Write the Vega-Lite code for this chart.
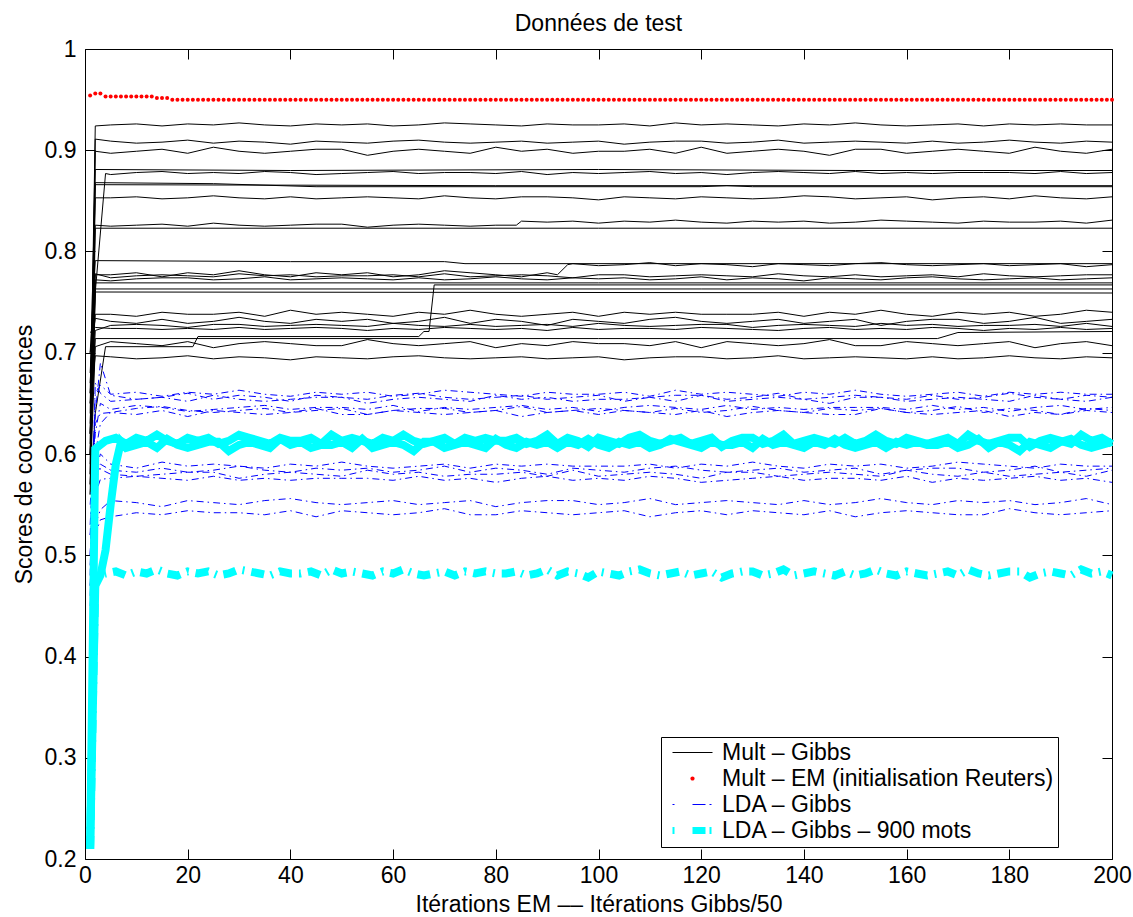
{
"$schema":"https://vega.github.io/schema/vega-lite/v6.json",
"width":1027,"height":810,
"autosize":{"type":"none"},
"padding":{"left":85,"top":49,"right":21,"bottom":58},
"title":{"text":"Données de test","font":"Liberation Sans","fontSize":23,"fontWeight":"normal","color":"#000000","offset":2,"anchor":"middle"},
"config":{"view":{"stroke":"#000000","strokeWidth":1},
"axis":{"grid":false,"domain":false,"tickColor":"#000000","tickSize":-10,"tickWidth":1,"labelFont":"Liberation Sans","labelFontSize":23,"labelColor":"#000000","titleFont":"Liberation Sans","titleFontSize":23,"titleFontWeight":"normal","titleColor":"#000000","labelFlush":false,"labelOverlap":false,"labelBound":false}},
"datasets":{
"mg":[
{"s":1,"x":1,"y":0.62},{"s":1,"x":2,"y":0.924},{"s":1,"x":5,"y":0.925},{"s":1,"x":10,"y":0.926},{"s":1,"x":15,"y":0.924},{"s":1,"x":20,"y":0.926},{"s":1,"x":25,"y":0.925},{"s":1,"x":30,"y":0.927},{"s":1,"x":35,"y":0.925},{"s":1,"x":40,"y":0.924},{"s":1,"x":45,"y":0.926},{"s":1,"x":50,"y":0.925},{"s":1,"x":55,"y":0.926},{"s":1,"x":60,"y":0.924},{"s":1,"x":65,"y":0.925},{"s":1,"x":70,"y":0.927},{"s":1,"x":75,"y":0.926},{"s":1,"x":80,"y":0.925},{"s":1,"x":85,"y":0.924},{"s":1,"x":90,"y":0.926},{"s":1,"x":95,"y":0.925},{"s":1,"x":100,"y":0.925},{"s":1,"x":105,"y":0.926},{"s":1,"x":110,"y":0.924},{"s":1,"x":115,"y":0.927},{"s":1,"x":120,"y":0.925},{"s":1,"x":125,"y":0.926},{"s":1,"x":130,"y":0.925},{"s":1,"x":135,"y":0.924},{"s":1,"x":140,"y":0.926},{"s":1,"x":145,"y":0.925},{"s":1,"x":150,"y":0.927},{"s":1,"x":155,"y":0.925},{"s":1,"x":160,"y":0.924},{"s":1,"x":165,"y":0.925},{"s":1,"x":170,"y":0.926},{"s":1,"x":175,"y":0.924},{"s":1,"x":180,"y":0.926},{"s":1,"x":185,"y":0.925},{"s":1,"x":190,"y":0.926},{"s":1,"x":195,"y":0.925},{"s":1,"x":200,"y":0.925},
{"s":2,"x":1,"y":0.60},{"s":2,"x":2,"y":0.911},{"s":2,"x":5,"y":0.909},{"s":2,"x":10,"y":0.907},{"s":2,"x":15,"y":0.908},{"s":2,"x":20,"y":0.910},{"s":2,"x":25,"y":0.907},{"s":2,"x":30,"y":0.909},{"s":2,"x":35,"y":0.908},{"s":2,"x":40,"y":0.906},{"s":2,"x":45,"y":0.909},{"s":2,"x":50,"y":0.908},{"s":2,"x":55,"y":0.907},{"s":2,"x":60,"y":0.909},{"s":2,"x":65,"y":0.910},{"s":2,"x":70,"y":0.908},{"s":2,"x":75,"y":0.907},{"s":2,"x":80,"y":0.908},{"s":2,"x":85,"y":0.909},{"s":2,"x":90,"y":0.907},{"s":2,"x":95,"y":0.908},{"s":2,"x":100,"y":0.909},{"s":2,"x":105,"y":0.906},{"s":2,"x":110,"y":0.908},{"s":2,"x":115,"y":0.909},{"s":2,"x":120,"y":0.909},{"s":2,"x":125,"y":0.907},{"s":2,"x":130,"y":0.908},{"s":2,"x":135,"y":0.910},{"s":2,"x":140,"y":0.907},{"s":2,"x":145,"y":0.908},{"s":2,"x":150,"y":0.909},{"s":2,"x":155,"y":0.908},{"s":2,"x":160,"y":0.907},{"s":2,"x":165,"y":0.909},{"s":2,"x":170,"y":0.907},{"s":2,"x":175,"y":0.908},{"s":2,"x":180,"y":0.910},{"s":2,"x":185,"y":0.908},{"s":2,"x":190,"y":0.907},{"s":2,"x":195,"y":0.909},{"s":2,"x":200,"y":0.908},
{"s":3,"x":1,"y":0.58},{"s":3,"x":2,"y":0.899},{"s":3,"x":5,"y":0.897},{"s":3,"x":10,"y":0.899},{"s":3,"x":15,"y":0.901},{"s":3,"x":20,"y":0.897},{"s":3,"x":25,"y":0.903},{"s":3,"x":30,"y":0.899},{"s":3,"x":35,"y":0.897},{"s":3,"x":40,"y":0.899},{"s":3,"x":45,"y":0.901},{"s":3,"x":50,"y":0.901},{"s":3,"x":55,"y":0.895},{"s":3,"x":60,"y":0.899},{"s":3,"x":65,"y":0.901},{"s":3,"x":70,"y":0.899},{"s":3,"x":75,"y":0.897},{"s":3,"x":80,"y":0.903},{"s":3,"x":85,"y":0.899},{"s":3,"x":90,"y":0.901},{"s":3,"x":95,"y":0.897},{"s":3,"x":100,"y":0.899},{"s":3,"x":105,"y":0.899},{"s":3,"x":110,"y":0.901},{"s":3,"x":115,"y":0.897},{"s":3,"x":120,"y":0.903},{"s":3,"x":125,"y":0.897},{"s":3,"x":130,"y":0.899},{"s":3,"x":135,"y":0.901},{"s":3,"x":140,"y":0.899},{"s":3,"x":145,"y":0.895},{"s":3,"x":150,"y":0.901},{"s":3,"x":155,"y":0.901},{"s":3,"x":160,"y":0.897},{"s":3,"x":165,"y":0.899},{"s":3,"x":170,"y":0.901},{"s":3,"x":175,"y":0.899},{"s":3,"x":180,"y":0.897},{"s":3,"x":185,"y":0.903},{"s":3,"x":190,"y":0.899},{"s":3,"x":195,"y":0.897},{"s":3,"x":200,"y":0.901},
{"s":4,"x":1,"y":0.66},{"s":4,"x":2,"y":0.881},{"s":4,"x":40,"y":0.880},{"s":4,"x":100,"y":0.881},{"s":4,"x":150,"y":0.880},{"s":4,"x":200,"y":0.880},
{"s":5,"x":1,"y":0.57},{"s":5,"x":2,"y":0.76},{"s":5,"x":4,"y":0.877},{"s":5,"x":5,"y":0.876},{"s":5,"x":10,"y":0.878},{"s":5,"x":15,"y":0.879},{"s":5,"x":20,"y":0.877},{"s":5,"x":25,"y":0.878},{"s":5,"x":30,"y":0.877},{"s":5,"x":35,"y":0.879},{"s":5,"x":40,"y":0.878},{"s":5,"x":45,"y":0.876},{"s":5,"x":50,"y":0.877},{"s":5,"x":55,"y":0.878},{"s":5,"x":60,"y":0.879},{"s":5,"x":65,"y":0.877},{"s":5,"x":70,"y":0.878},{"s":5,"x":75,"y":0.878},{"s":5,"x":80,"y":0.877},{"s":5,"x":85,"y":0.879},{"s":5,"x":90,"y":0.876},{"s":5,"x":95,"y":0.878},{"s":5,"x":100,"y":0.877},{"s":5,"x":105,"y":0.878},{"s":5,"x":110,"y":0.879},{"s":5,"x":115,"y":0.877},{"s":5,"x":120,"y":0.878},{"s":5,"x":125,"y":0.876},{"s":5,"x":130,"y":0.878},{"s":5,"x":135,"y":0.879},{"s":5,"x":140,"y":0.878},{"s":5,"x":145,"y":0.877},{"s":5,"x":150,"y":0.879},{"s":5,"x":155,"y":0.877},{"s":5,"x":160,"y":0.878},{"s":5,"x":165,"y":0.877},{"s":5,"x":170,"y":0.878},{"s":5,"x":175,"y":0.878},{"s":5,"x":180,"y":0.878},{"s":5,"x":185,"y":0.877},{"s":5,"x":190,"y":0.879},{"s":5,"x":195,"y":0.877},{"s":5,"x":200,"y":0.878},
{"s":6,"x":1,"y":0.64},{"s":6,"x":2,"y":0.866},{"s":6,"x":80,"y":0.865},{"s":6,"x":200,"y":0.865},
{"s":7,"x":1,"y":0.61},{"s":7,"x":2,"y":0.868},{"s":7,"x":25,"y":0.867},{"s":7,"x":45,"y":0.864},{"s":7,"x":120,"y":0.864},{"s":7,"x":125,"y":0.865},{"s":7,"x":130,"y":0.864},{"s":7,"x":200,"y":0.864},
{"s":8,"x":1,"y":0.59},{"s":8,"x":2,"y":0.853},{"s":8,"x":5,"y":0.853},{"s":8,"x":10,"y":0.854},{"s":8,"x":15,"y":0.852},{"s":8,"x":20,"y":0.853},{"s":8,"x":25,"y":0.855},{"s":8,"x":30,"y":0.853},{"s":8,"x":35,"y":0.852},{"s":8,"x":40,"y":0.854},{"s":8,"x":45,"y":0.852},{"s":8,"x":50,"y":0.853},{"s":8,"x":55,"y":0.854},{"s":8,"x":60,"y":0.853},{"s":8,"x":65,"y":0.852},{"s":8,"x":70,"y":0.855},{"s":8,"x":75,"y":0.853},{"s":8,"x":80,"y":0.852},{"s":8,"x":85,"y":0.854},{"s":8,"x":90,"y":0.854},{"s":8,"x":95,"y":0.853},{"s":8,"x":100,"y":0.851},{"s":8,"x":105,"y":0.854},{"s":8,"x":110,"y":0.853},{"s":8,"x":115,"y":0.852},{"s":8,"x":120,"y":0.854},{"s":8,"x":125,"y":0.853},{"s":8,"x":130,"y":0.852},{"s":8,"x":135,"y":0.853},{"s":8,"x":140,"y":0.855},{"s":8,"x":145,"y":0.854},{"s":8,"x":150,"y":0.852},{"s":8,"x":155,"y":0.853},{"s":8,"x":160,"y":0.854},{"s":8,"x":165,"y":0.851},{"s":8,"x":170,"y":0.853},{"s":8,"x":175,"y":0.854},{"s":8,"x":180,"y":0.852},{"s":8,"x":185,"y":0.855},{"s":8,"x":190,"y":0.853},{"s":8,"x":195,"y":0.852},{"s":8,"x":200,"y":0.854},
{"s":9,"x":1,"y":0.65},{"s":9,"x":2,"y":0.826},{"s":9,"x":5,"y":0.825},{"s":9,"x":10,"y":0.826},{"s":9,"x":15,"y":0.827},{"s":9,"x":20,"y":0.825},{"s":9,"x":25,"y":0.828},{"s":9,"x":30,"y":0.826},{"s":9,"x":35,"y":0.825},{"s":9,"x":40,"y":0.826},{"s":9,"x":45,"y":0.827},{"s":9,"x":50,"y":0.827},{"s":9,"x":55,"y":0.824},{"s":9,"x":60,"y":0.826},{"s":9,"x":65,"y":0.827},{"s":9,"x":70,"y":0.826},{"s":9,"x":75,"y":0.825},{"s":9,"x":80,"y":0.826},{"s":9,"x":84,"y":0.826},{"s":9,"x":85,"y":0.830},{"s":9,"x":90,"y":0.829},{"s":9,"x":95,"y":0.830},{"s":9,"x":100,"y":0.828},{"s":9,"x":105,"y":0.830},{"s":9,"x":110,"y":0.829},{"s":9,"x":115,"y":0.831},{"s":9,"x":120,"y":0.829},{"s":9,"x":125,"y":0.828},{"s":9,"x":130,"y":0.830},{"s":9,"x":135,"y":0.829},{"s":9,"x":140,"y":0.830},{"s":9,"x":145,"y":0.828},{"s":9,"x":150,"y":0.829},{"s":9,"x":155,"y":0.831},{"s":9,"x":160,"y":0.830},{"s":9,"x":165,"y":0.829},{"s":9,"x":170,"y":0.828},{"s":9,"x":175,"y":0.830},{"s":9,"x":180,"y":0.829},{"s":9,"x":185,"y":0.829},{"s":9,"x":190,"y":0.830},{"s":9,"x":195,"y":0.828},{"s":9,"x":200,"y":0.831},
{"s":10,"x":1,"y":0.56},{"s":10,"x":2,"y":0.823},{"s":10,"x":100,"y":0.823},{"s":10,"x":200,"y":0.823},
{"s":11,"x":1,"y":0.70},{"s":11,"x":2,"y":0.791},{"s":11,"x":40,"y":0.790},{"s":11,"x":70,"y":0.790},{"s":11,"x":74,"y":0.788},{"s":11,"x":200,"y":0.788},
{"s":12,"x":1,"y":0.62},{"s":12,"x":2,"y":0.777},{"s":12,"x":5,"y":0.777},{"s":12,"x":10,"y":0.779},{"s":12,"x":15,"y":0.775},{"s":12,"x":20,"y":0.779},{"s":12,"x":25,"y":0.777},{"s":12,"x":30,"y":0.781},{"s":12,"x":35,"y":0.777},{"s":12,"x":40,"y":0.775},{"s":12,"x":45,"y":0.779},{"s":12,"x":50,"y":0.777},{"s":12,"x":55,"y":0.779},{"s":12,"x":60,"y":0.775},{"s":12,"x":65,"y":0.777},{"s":12,"x":70,"y":0.781},{"s":12,"x":75,"y":0.779},{"s":12,"x":80,"y":0.777},{"s":12,"x":85,"y":0.775},{"s":12,"x":90,"y":0.779},{"s":12,"x":92,"y":0.777},{"s":12,"x":94,"y":0.787},{"s":12,"x":95,"y":0.788},{"s":12,"x":100,"y":0.786},{"s":12,"x":105,"y":0.787},{"s":12,"x":110,"y":0.789},{"s":12,"x":115,"y":0.786},{"s":12,"x":120,"y":0.788},{"s":12,"x":125,"y":0.787},{"s":12,"x":130,"y":0.785},{"s":12,"x":135,"y":0.788},{"s":12,"x":140,"y":0.787},{"s":12,"x":145,"y":0.786},{"s":12,"x":150,"y":0.788},{"s":12,"x":155,"y":0.789},{"s":12,"x":160,"y":0.787},{"s":12,"x":165,"y":0.786},{"s":12,"x":170,"y":0.787},{"s":12,"x":175,"y":0.788},{"s":12,"x":180,"y":0.786},{"s":12,"x":185,"y":0.787},{"s":12,"x":190,"y":0.788},{"s":12,"x":195,"y":0.785},{"s":12,"x":200,"y":0.787},
{"s":13,"x":1,"y":0.68},{"s":13,"x":2,"y":0.778},{"s":13,"x":5,"y":0.774},{"s":13,"x":10,"y":0.776},{"s":13,"x":15,"y":0.777},{"s":13,"x":20,"y":0.776},{"s":13,"x":25,"y":0.775},{"s":13,"x":30,"y":0.778},{"s":13,"x":35,"y":0.776},{"s":13,"x":40,"y":0.777},{"s":13,"x":45,"y":0.775},{"s":13,"x":50,"y":0.776},{"s":13,"x":55,"y":0.776},{"s":13,"x":60,"y":0.777},{"s":13,"x":65,"y":0.775},{"s":13,"x":70,"y":0.778},{"s":13,"x":75,"y":0.775},{"s":13,"x":80,"y":0.776},{"s":13,"x":85,"y":0.777},{"s":13,"x":90,"y":0.776},{"s":13,"x":95,"y":0.774},{"s":13,"x":100,"y":0.777},{"s":13,"x":105,"y":0.777},{"s":13,"x":110,"y":0.775},{"s":13,"x":115,"y":0.776},{"s":13,"x":120,"y":0.777},{"s":13,"x":125,"y":0.776},{"s":13,"x":130,"y":0.775},{"s":13,"x":135,"y":0.778},{"s":13,"x":140,"y":0.776},{"s":13,"x":145,"y":0.775},{"s":13,"x":150,"y":0.777},{"s":13,"x":155,"y":0.775},{"s":13,"x":160,"y":0.776},{"s":13,"x":165,"y":0.777},{"s":13,"x":170,"y":0.775},{"s":13,"x":175,"y":0.778},{"s":13,"x":180,"y":0.776},{"s":13,"x":185,"y":0.775},{"s":13,"x":190,"y":0.776},{"s":13,"x":195,"y":0.777},{"s":13,"x":200,"y":0.777},
{"s":14,"x":1,"y":0.60},{"s":14,"x":2,"y":0.772},{"s":14,"x":5,"y":0.771},{"s":14,"x":10,"y":0.773},{"s":14,"x":15,"y":0.774},{"s":14,"x":20,"y":0.774},{"s":14,"x":25,"y":0.772},{"s":14,"x":30,"y":0.773},{"s":14,"x":35,"y":0.775},{"s":14,"x":40,"y":0.772},{"s":14,"x":45,"y":0.773},{"s":14,"x":50,"y":0.774},{"s":14,"x":55,"y":0.773},{"s":14,"x":60,"y":0.772},{"s":14,"x":65,"y":0.774},{"s":14,"x":70,"y":0.772},{"s":14,"x":75,"y":0.773},{"s":14,"x":80,"y":0.775},{"s":14,"x":85,"y":0.773},{"s":14,"x":90,"y":0.772},{"s":14,"x":95,"y":0.774},{"s":14,"x":100,"y":0.773},{"s":14,"x":105,"y":0.774},{"s":14,"x":110,"y":0.772},{"s":14,"x":115,"y":0.773},{"s":14,"x":120,"y":0.775},{"s":14,"x":125,"y":0.772},{"s":14,"x":130,"y":0.774},{"s":14,"x":135,"y":0.773},{"s":14,"x":140,"y":0.771},{"s":14,"x":145,"y":0.774},{"s":14,"x":150,"y":0.773},{"s":14,"x":155,"y":0.772},{"s":14,"x":160,"y":0.774},{"s":14,"x":165,"y":0.775},{"s":14,"x":170,"y":0.773},{"s":14,"x":175,"y":0.772},{"s":14,"x":180,"y":0.773},{"s":14,"x":185,"y":0.774},{"s":14,"x":190,"y":0.772},{"s":14,"x":195,"y":0.773},{"s":14,"x":200,"y":0.774},
{"s":15,"x":1,"y":0.67},{"s":15,"x":2,"y":0.769},{"s":15,"x":100,"y":0.769},{"s":15,"x":200,"y":0.769},
{"s":16,"x":1,"y":0.63},{"s":16,"x":2,"y":0.763},{"s":16,"x":120,"y":0.763},{"s":16,"x":200,"y":0.763},
{"s":17,"x":1,"y":0.56},{"s":17,"x":2,"y":0.64},{"s":17,"x":4,"y":0.706},{"s":17,"x":21,"y":0.706},{"s":17,"x":22,"y":0.716},{"s":17,"x":65,"y":0.716},{"s":17,"x":66,"y":0.721},{"s":17,"x":67,"y":0.721},{"s":17,"x":68,"y":0.767},{"s":17,"x":200,"y":0.767},
{"s":18,"x":1,"y":0.58},{"s":18,"x":2,"y":0.760},{"s":18,"x":200,"y":0.759},
{"s":19,"x":1,"y":0.66},{"s":19,"x":2,"y":0.738},{"s":19,"x":5,"y":0.738},{"s":19,"x":10,"y":0.736},{"s":19,"x":15,"y":0.740},{"s":19,"x":20,"y":0.738},{"s":19,"x":25,"y":0.738},{"s":19,"x":30,"y":0.740},{"s":19,"x":35,"y":0.736},{"s":19,"x":40,"y":0.742},{"s":19,"x":45,"y":0.738},{"s":19,"x":50,"y":0.740},{"s":19,"x":55,"y":0.738},{"s":19,"x":60,"y":0.736},{"s":19,"x":65,"y":0.740},{"s":19,"x":70,"y":0.738},{"s":19,"x":75,"y":0.742},{"s":19,"x":80,"y":0.738},{"s":19,"x":85,"y":0.736},{"s":19,"x":90,"y":0.738},{"s":19,"x":95,"y":0.740},{"s":19,"x":100,"y":0.736},{"s":19,"x":105,"y":0.740},{"s":19,"x":110,"y":0.738},{"s":19,"x":115,"y":0.740},{"s":19,"x":120,"y":0.738},{"s":19,"x":125,"y":0.738},{"s":19,"x":130,"y":0.738},{"s":19,"x":135,"y":0.740},{"s":19,"x":140,"y":0.736},{"s":19,"x":145,"y":0.740},{"s":19,"x":150,"y":0.738},{"s":19,"x":155,"y":0.742},{"s":19,"x":160,"y":0.738},{"s":19,"x":165,"y":0.736},{"s":19,"x":170,"y":0.740},{"s":19,"x":175,"y":0.738},{"s":19,"x":180,"y":0.740},{"s":19,"x":185,"y":0.736},{"s":19,"x":190,"y":0.738},{"s":19,"x":195,"y":0.742},{"s":19,"x":200,"y":0.740},
{"s":20,"x":1,"y":0.70},{"s":20,"x":2,"y":0.734},{"s":20,"x":5,"y":0.731},{"s":20,"x":10,"y":0.729},{"s":20,"x":15,"y":0.733},{"s":20,"x":20,"y":0.729},{"s":20,"x":25,"y":0.731},{"s":20,"x":30,"y":0.735},{"s":20,"x":35,"y":0.731},{"s":20,"x":40,"y":0.729},{"s":20,"x":45,"y":0.733},{"s":20,"x":50,"y":0.731},{"s":20,"x":55,"y":0.733},{"s":20,"x":60,"y":0.729},{"s":20,"x":65,"y":0.731},{"s":20,"x":70,"y":0.735},{"s":20,"x":75,"y":0.729},{"s":20,"x":80,"y":0.733},{"s":20,"x":85,"y":0.731},{"s":20,"x":90,"y":0.727},{"s":20,"x":95,"y":0.733},{"s":20,"x":100,"y":0.731},{"s":20,"x":105,"y":0.729},{"s":20,"x":110,"y":0.733},{"s":20,"x":115,"y":0.735},{"s":20,"x":120,"y":0.731},{"s":20,"x":125,"y":0.729},{"s":20,"x":130,"y":0.731},{"s":20,"x":135,"y":0.733},{"s":20,"x":140,"y":0.729},{"s":20,"x":145,"y":0.731},{"s":20,"x":150,"y":0.733},{"s":20,"x":155,"y":0.727},{"s":20,"x":160,"y":0.731},{"s":20,"x":165,"y":0.733},{"s":20,"x":170,"y":0.733},{"s":20,"x":175,"y":0.729},{"s":20,"x":180,"y":0.731},{"s":20,"x":185,"y":0.735},{"s":20,"x":190,"y":0.729},{"s":20,"x":195,"y":0.731},{"s":20,"x":200,"y":0.733},
{"s":21,"x":1,"y":0.62},{"s":21,"x":2,"y":0.722},{"s":21,"x":5,"y":0.727},{"s":21,"x":10,"y":0.728},{"s":21,"x":15,"y":0.727},{"s":21,"x":20,"y":0.725},{"s":21,"x":25,"y":0.728},{"s":21,"x":30,"y":0.728},{"s":21,"x":35,"y":0.726},{"s":21,"x":40,"y":0.727},{"s":21,"x":45,"y":0.728},{"s":21,"x":50,"y":0.727},{"s":21,"x":55,"y":0.726},{"s":21,"x":60,"y":0.729},{"s":21,"x":65,"y":0.727},{"s":21,"x":70,"y":0.726},{"s":21,"x":75,"y":0.728},{"s":21,"x":80,"y":0.726},{"s":21,"x":85,"y":0.727},{"s":21,"x":90,"y":0.728},{"s":21,"x":95,"y":0.726},{"s":21,"x":100,"y":0.729},{"s":21,"x":105,"y":0.727},{"s":21,"x":110,"y":0.726},{"s":21,"x":115,"y":0.727},{"s":21,"x":120,"y":0.728},{"s":21,"x":125,"y":0.728},{"s":21,"x":130,"y":0.725},{"s":21,"x":135,"y":0.727},{"s":21,"x":140,"y":0.728},{"s":21,"x":145,"y":0.727},{"s":21,"x":150,"y":0.726},{"s":21,"x":155,"y":0.729},{"s":21,"x":160,"y":0.727},{"s":21,"x":165,"y":0.728},{"s":21,"x":170,"y":0.726},{"s":21,"x":175,"y":0.727},{"s":21,"x":180,"y":0.727},{"s":21,"x":185,"y":0.728},{"s":21,"x":190,"y":0.726},{"s":21,"x":195,"y":0.729},{"s":21,"x":200,"y":0.726},
{"s":22,"x":1,"y":0.72},{"s":22,"x":2,"y":0.725},{"s":22,"x":5,"y":0.724},{"s":22,"x":10,"y":0.724},{"s":22,"x":15,"y":0.723},{"s":22,"x":20,"y":0.724},{"s":22,"x":25,"y":0.723},{"s":22,"x":30,"y":0.725},{"s":22,"x":35,"y":0.723},{"s":22,"x":40,"y":0.724},{"s":22,"x":45,"y":0.725},{"s":22,"x":50,"y":0.724},{"s":22,"x":55,"y":0.722},{"s":22,"x":60,"y":0.724},{"s":22,"x":65,"y":0.723},{"s":22,"x":70,"y":0.725},{"s":22,"x":75,"y":0.724},{"s":22,"x":80,"y":0.723},{"s":22,"x":85,"y":0.724},{"s":22,"x":90,"y":0.722},{"s":22,"x":95,"y":0.725},{"s":22,"x":100,"y":0.723},{"s":22,"x":105,"y":0.724},{"s":22,"x":110,"y":0.724},{"s":22,"x":115,"y":0.723},{"s":22,"x":120,"y":0.725},{"s":22,"x":125,"y":0.724},{"s":22,"x":130,"y":0.723},{"s":22,"x":135,"y":0.722},{"s":22,"x":140,"y":0.724},{"s":22,"x":145,"y":0.725},{"s":22,"x":150,"y":0.723},{"s":22,"x":155,"y":0.724},{"s":22,"x":160,"y":0.723},{"s":22,"x":165,"y":0.725},{"s":22,"x":170,"y":0.724},{"s":22,"x":175,"y":0.722},{"s":22,"x":180,"y":0.724},{"s":22,"x":185,"y":0.723},{"s":22,"x":190,"y":0.725},{"s":22,"x":195,"y":0.723},{"s":22,"x":200,"y":0.724},
{"s":23,"x":1,"y":0.60},{"s":23,"x":2,"y":0.714},{"s":23,"x":100,"y":0.714},{"s":23,"x":166,"y":0.714},{"s":23,"x":170,"y":0.720},{"s":23,"x":200,"y":0.721},
{"s":24,"x":1,"y":0.57},{"s":24,"x":2,"y":0.706},{"s":24,"x":5,"y":0.711},{"s":24,"x":10,"y":0.709},{"s":24,"x":15,"y":0.707},{"s":24,"x":20,"y":0.711},{"s":24,"x":25,"y":0.705},{"s":24,"x":30,"y":0.709},{"s":24,"x":35,"y":0.711},{"s":24,"x":40,"y":0.709},{"s":24,"x":45,"y":0.707},{"s":24,"x":50,"y":0.707},{"s":24,"x":55,"y":0.713},{"s":24,"x":60,"y":0.709},{"s":24,"x":65,"y":0.707},{"s":24,"x":70,"y":0.709},{"s":24,"x":75,"y":0.711},{"s":24,"x":80,"y":0.705},{"s":24,"x":85,"y":0.709},{"s":24,"x":90,"y":0.707},{"s":24,"x":95,"y":0.711},{"s":24,"x":100,"y":0.709},{"s":24,"x":105,"y":0.709},{"s":24,"x":110,"y":0.707},{"s":24,"x":115,"y":0.711},{"s":24,"x":120,"y":0.705},{"s":24,"x":125,"y":0.711},{"s":24,"x":130,"y":0.709},{"s":24,"x":135,"y":0.707},{"s":24,"x":140,"y":0.709},{"s":24,"x":145,"y":0.713},{"s":24,"x":150,"y":0.707},{"s":24,"x":155,"y":0.707},{"s":24,"x":160,"y":0.711},{"s":24,"x":165,"y":0.709},{"s":24,"x":170,"y":0.707},{"s":24,"x":175,"y":0.709},{"s":24,"x":180,"y":0.711},{"s":24,"x":185,"y":0.705},{"s":24,"x":190,"y":0.709},{"s":24,"x":195,"y":0.711},{"s":24,"x":200,"y":0.707},
{"s":25,"x":1,"y":0.65},{"s":25,"x":2,"y":0.697},{"s":25,"x":5,"y":0.696},{"s":25,"x":10,"y":0.694},{"s":25,"x":15,"y":0.695},{"s":25,"x":20,"y":0.697},{"s":25,"x":25,"y":0.694},{"s":25,"x":30,"y":0.696},{"s":25,"x":35,"y":0.695},{"s":25,"x":40,"y":0.693},{"s":25,"x":45,"y":0.696},{"s":25,"x":50,"y":0.695},{"s":25,"x":55,"y":0.694},{"s":25,"x":60,"y":0.696},{"s":25,"x":65,"y":0.697},{"s":25,"x":70,"y":0.695},{"s":25,"x":75,"y":0.694},{"s":25,"x":80,"y":0.695},{"s":25,"x":85,"y":0.696},{"s":25,"x":90,"y":0.694},{"s":25,"x":95,"y":0.695},{"s":25,"x":100,"y":0.696},{"s":25,"x":105,"y":0.693},{"s":25,"x":110,"y":0.695},{"s":25,"x":115,"y":0.696},{"s":25,"x":120,"y":0.696},{"s":25,"x":125,"y":0.694},{"s":25,"x":130,"y":0.695},{"s":25,"x":135,"y":0.697},{"s":25,"x":140,"y":0.694},{"s":25,"x":145,"y":0.695},{"s":25,"x":150,"y":0.696},{"s":25,"x":155,"y":0.695},{"s":25,"x":160,"y":0.694},{"s":25,"x":165,"y":0.696},{"s":25,"x":170,"y":0.694},{"s":25,"x":175,"y":0.695},{"s":25,"x":180,"y":0.697},{"s":25,"x":185,"y":0.695},{"s":25,"x":190,"y":0.694},{"s":25,"x":195,"y":0.696},{"s":25,"x":200,"y":0.695}
],
"lg":[
{"s":1,"x":1,"y":0.50},{"s":1,"x":2,"y":0.66},{"s":1,"x":3,"y":0.668},{"s":1,"x":5,"y":0.659},{"s":1,"x":10,"y":0.661},{"s":1,"x":15,"y":0.657},{"s":1,"x":20,"y":0.661},{"s":1,"x":25,"y":0.659},{"s":1,"x":30,"y":0.663},{"s":1,"x":35,"y":0.659},{"s":1,"x":40,"y":0.657},{"s":1,"x":45,"y":0.661},{"s":1,"x":50,"y":0.659},{"s":1,"x":55,"y":0.661},{"s":1,"x":60,"y":0.657},{"s":1,"x":65,"y":0.659},{"s":1,"x":70,"y":0.663},{"s":1,"x":75,"y":0.661},{"s":1,"x":80,"y":0.659},{"s":1,"x":85,"y":0.657},{"s":1,"x":90,"y":0.661},{"s":1,"x":95,"y":0.659},{"s":1,"x":100,"y":0.659},{"s":1,"x":105,"y":0.661},{"s":1,"x":110,"y":0.657},{"s":1,"x":115,"y":0.663},{"s":1,"x":120,"y":0.659},{"s":1,"x":125,"y":0.661},{"s":1,"x":130,"y":0.659},{"s":1,"x":135,"y":0.657},{"s":1,"x":140,"y":0.661},{"s":1,"x":145,"y":0.659},{"s":1,"x":150,"y":0.663},{"s":1,"x":155,"y":0.659},{"s":1,"x":160,"y":0.657},{"s":1,"x":165,"y":0.659},{"s":1,"x":170,"y":0.661},{"s":1,"x":175,"y":0.657},{"s":1,"x":180,"y":0.661},{"s":1,"x":185,"y":0.659},{"s":1,"x":190,"y":0.661},{"s":1,"x":195,"y":0.659},{"s":1,"x":200,"y":0.659},
{"s":2,"x":1,"y":0.52},{"s":2,"x":2,"y":0.64},{"s":2,"x":3,"y":0.69},{"s":2,"x":5,"y":0.658},{"s":2,"x":10,"y":0.654},{"s":2,"x":15,"y":0.656},{"s":2,"x":20,"y":0.660},{"s":2,"x":25,"y":0.654},{"s":2,"x":30,"y":0.658},{"s":2,"x":35,"y":0.656},{"s":2,"x":40,"y":0.652},{"s":2,"x":45,"y":0.658},{"s":2,"x":50,"y":0.656},{"s":2,"x":55,"y":0.654},{"s":2,"x":60,"y":0.658},{"s":2,"x":65,"y":0.660},{"s":2,"x":70,"y":0.656},{"s":2,"x":75,"y":0.654},{"s":2,"x":80,"y":0.656},{"s":2,"x":85,"y":0.658},{"s":2,"x":90,"y":0.654},{"s":2,"x":95,"y":0.656},{"s":2,"x":100,"y":0.658},{"s":2,"x":105,"y":0.652},{"s":2,"x":110,"y":0.656},{"s":2,"x":115,"y":0.658},{"s":2,"x":120,"y":0.658},{"s":2,"x":125,"y":0.654},{"s":2,"x":130,"y":0.656},{"s":2,"x":135,"y":0.660},{"s":2,"x":140,"y":0.654},{"s":2,"x":145,"y":0.656},{"s":2,"x":150,"y":0.658},{"s":2,"x":155,"y":0.656},{"s":2,"x":160,"y":0.654},{"s":2,"x":165,"y":0.658},{"s":2,"x":170,"y":0.654},{"s":2,"x":175,"y":0.656},{"s":2,"x":180,"y":0.660},{"s":2,"x":185,"y":0.656},{"s":2,"x":190,"y":0.654},{"s":2,"x":195,"y":0.658},{"s":2,"x":200,"y":0.656},
{"s":3,"x":1,"y":0.48},{"s":3,"x":2,"y":0.67},{"s":3,"x":3,"y":0.66},{"s":3,"x":5,"y":0.652},{"s":3,"x":10,"y":0.654},{"s":3,"x":15,"y":0.656},{"s":3,"x":20,"y":0.652},{"s":3,"x":25,"y":0.658},{"s":3,"x":30,"y":0.654},{"s":3,"x":35,"y":0.652},{"s":3,"x":40,"y":0.654},{"s":3,"x":45,"y":0.656},{"s":3,"x":50,"y":0.656},{"s":3,"x":55,"y":0.650},{"s":3,"x":60,"y":0.654},{"s":3,"x":65,"y":0.656},{"s":3,"x":70,"y":0.654},{"s":3,"x":75,"y":0.652},{"s":3,"x":80,"y":0.658},{"s":3,"x":85,"y":0.654},{"s":3,"x":90,"y":0.656},{"s":3,"x":95,"y":0.652},{"s":3,"x":100,"y":0.654},{"s":3,"x":105,"y":0.654},{"s":3,"x":110,"y":0.656},{"s":3,"x":115,"y":0.652},{"s":3,"x":120,"y":0.658},{"s":3,"x":125,"y":0.652},{"s":3,"x":130,"y":0.654},{"s":3,"x":135,"y":0.656},{"s":3,"x":140,"y":0.654},{"s":3,"x":145,"y":0.650},{"s":3,"x":150,"y":0.656},{"s":3,"x":155,"y":0.656},{"s":3,"x":160,"y":0.652},{"s":3,"x":165,"y":0.654},{"s":3,"x":170,"y":0.656},{"s":3,"x":175,"y":0.654},{"s":3,"x":180,"y":0.652},{"s":3,"x":185,"y":0.658},{"s":3,"x":190,"y":0.654},{"s":3,"x":195,"y":0.652},{"s":3,"x":200,"y":0.656},
{"s":4,"x":1,"y":0.55},{"s":4,"x":2,"y":0.62},{"s":4,"x":3,"y":0.65},{"s":4,"x":5,"y":0.644},{"s":4,"x":10,"y":0.648},{"s":4,"x":15,"y":0.646},{"s":4,"x":20,"y":0.642},{"s":4,"x":25,"y":0.644},{"s":4,"x":30,"y":0.646},{"s":4,"x":35,"y":0.648},{"s":4,"x":40,"y":0.644},{"s":4,"x":45,"y":0.646},{"s":4,"x":50,"y":0.646},{"s":4,"x":55,"y":0.644},{"s":4,"x":60,"y":0.648},{"s":4,"x":65,"y":0.642},{"s":4,"x":70,"y":0.646},{"s":4,"x":75,"y":0.644},{"s":4,"x":80,"y":0.646},{"s":4,"x":85,"y":0.648},{"s":4,"x":90,"y":0.644},{"s":4,"x":95,"y":0.646},{"s":4,"x":100,"y":0.642},{"s":4,"x":105,"y":0.646},{"s":4,"x":110,"y":0.648},{"s":4,"x":115,"y":0.646},{"s":4,"x":120,"y":0.644},{"s":4,"x":125,"y":0.648},{"s":4,"x":130,"y":0.644},{"s":4,"x":135,"y":0.646},{"s":4,"x":140,"y":0.644},{"s":4,"x":145,"y":0.646},{"s":4,"x":150,"y":0.646},{"s":4,"x":155,"y":0.646},{"s":4,"x":160,"y":0.644},{"s":4,"x":165,"y":0.648},{"s":4,"x":170,"y":0.644},{"s":4,"x":175,"y":0.646},{"s":4,"x":180,"y":0.642},{"s":4,"x":185,"y":0.646},{"s":4,"x":190,"y":0.648},{"s":4,"x":195,"y":0.644},{"s":4,"x":200,"y":0.646},
{"s":5,"x":1,"y":0.47},{"s":5,"x":2,"y":0.60},{"s":5,"x":3,"y":0.63},{"s":5,"x":5,"y":0.641},{"s":5,"x":10,"y":0.645},{"s":5,"x":15,"y":0.647},{"s":5,"x":20,"y":0.643},{"s":5,"x":25,"y":0.641},{"s":5,"x":30,"y":0.643},{"s":5,"x":35,"y":0.645},{"s":5,"x":40,"y":0.641},{"s":5,"x":45,"y":0.643},{"s":5,"x":50,"y":0.645},{"s":5,"x":55,"y":0.639},{"s":5,"x":60,"y":0.643},{"s":5,"x":65,"y":0.645},{"s":5,"x":70,"y":0.645},{"s":5,"x":75,"y":0.641},{"s":5,"x":80,"y":0.643},{"s":5,"x":85,"y":0.647},{"s":5,"x":90,"y":0.641},{"s":5,"x":95,"y":0.643},{"s":5,"x":100,"y":0.645},{"s":5,"x":105,"y":0.643},{"s":5,"x":110,"y":0.641},{"s":5,"x":115,"y":0.645},{"s":5,"x":120,"y":0.641},{"s":5,"x":125,"y":0.643},{"s":5,"x":130,"y":0.647},{"s":5,"x":135,"y":0.643},{"s":5,"x":140,"y":0.641},{"s":5,"x":145,"y":0.645},{"s":5,"x":150,"y":0.643},{"s":5,"x":155,"y":0.645},{"s":5,"x":160,"y":0.641},{"s":5,"x":165,"y":0.643},{"s":5,"x":170,"y":0.647},{"s":5,"x":175,"y":0.641},{"s":5,"x":180,"y":0.645},{"s":5,"x":185,"y":0.643},{"s":5,"x":190,"y":0.639},{"s":5,"x":195,"y":0.645},{"s":5,"x":200,"y":0.643},
{"s":6,"x":1,"y":0.53},{"s":6,"x":2,"y":0.63},{"s":6,"x":3,"y":0.64},{"s":6,"x":5,"y":0.641},{"s":6,"x":10,"y":0.639},{"s":6,"x":15,"y":0.643},{"s":6,"x":20,"y":0.637},{"s":6,"x":25,"y":0.643},{"s":6,"x":30,"y":0.641},{"s":6,"x":35,"y":0.639},{"s":6,"x":40,"y":0.641},{"s":6,"x":45,"y":0.645},{"s":6,"x":50,"y":0.639},{"s":6,"x":55,"y":0.639},{"s":6,"x":60,"y":0.643},{"s":6,"x":65,"y":0.641},{"s":6,"x":70,"y":0.639},{"s":6,"x":75,"y":0.641},{"s":6,"x":80,"y":0.643},{"s":6,"x":85,"y":0.637},{"s":6,"x":90,"y":0.641},{"s":6,"x":95,"y":0.643},{"s":6,"x":100,"y":0.639},{"s":6,"x":105,"y":0.643},{"s":6,"x":110,"y":0.641},{"s":6,"x":115,"y":0.639},{"s":6,"x":120,"y":0.643},{"s":6,"x":125,"y":0.637},{"s":6,"x":130,"y":0.641},{"s":6,"x":135,"y":0.643},{"s":6,"x":140,"y":0.641},{"s":6,"x":145,"y":0.639},{"s":6,"x":150,"y":0.639},{"s":6,"x":155,"y":0.645},{"s":6,"x":160,"y":0.641},{"s":6,"x":165,"y":0.639},{"s":6,"x":170,"y":0.641},{"s":6,"x":175,"y":0.643},{"s":6,"x":180,"y":0.637},{"s":6,"x":185,"y":0.641},{"s":6,"x":190,"y":0.639},{"s":6,"x":195,"y":0.643},{"s":6,"x":200,"y":0.641},
{"s":7,"x":1,"y":0.50},{"s":7,"x":2,"y":0.58},{"s":7,"x":3,"y":0.60},{"s":7,"x":5,"y":0.590},{"s":7,"x":10,"y":0.586},{"s":7,"x":15,"y":0.592},{"s":7,"x":20,"y":0.588},{"s":7,"x":25,"y":0.590},{"s":7,"x":30,"y":0.588},{"s":7,"x":35,"y":0.586},{"s":7,"x":40,"y":0.590},{"s":7,"x":45,"y":0.588},{"s":7,"x":50,"y":0.592},{"s":7,"x":55,"y":0.588},{"s":7,"x":60,"y":0.586},{"s":7,"x":65,"y":0.588},{"s":7,"x":70,"y":0.590},{"s":7,"x":75,"y":0.586},{"s":7,"x":80,"y":0.590},{"s":7,"x":85,"y":0.588},{"s":7,"x":90,"y":0.590},{"s":7,"x":95,"y":0.588},{"s":7,"x":100,"y":0.588},{"s":7,"x":105,"y":0.588},{"s":7,"x":110,"y":0.590},{"s":7,"x":115,"y":0.586},{"s":7,"x":120,"y":0.590},{"s":7,"x":125,"y":0.588},{"s":7,"x":130,"y":0.592},{"s":7,"x":135,"y":0.588},{"s":7,"x":140,"y":0.586},{"s":7,"x":145,"y":0.590},{"s":7,"x":150,"y":0.588},{"s":7,"x":155,"y":0.590},{"s":7,"x":160,"y":0.586},{"s":7,"x":165,"y":0.588},{"s":7,"x":170,"y":0.592},{"s":7,"x":175,"y":0.590},{"s":7,"x":180,"y":0.588},{"s":7,"x":185,"y":0.586},{"s":7,"x":190,"y":0.590},{"s":7,"x":195,"y":0.588},{"s":7,"x":200,"y":0.588},
{"s":8,"x":1,"y":0.46},{"s":8,"x":2,"y":0.57},{"s":8,"x":3,"y":0.59},{"s":8,"x":5,"y":0.584},{"s":8,"x":10,"y":0.582},{"s":8,"x":15,"y":0.586},{"s":8,"x":20,"y":0.582},{"s":8,"x":25,"y":0.584},{"s":8,"x":30,"y":0.588},{"s":8,"x":35,"y":0.584},{"s":8,"x":40,"y":0.582},{"s":8,"x":45,"y":0.586},{"s":8,"x":50,"y":0.584},{"s":8,"x":55,"y":0.586},{"s":8,"x":60,"y":0.582},{"s":8,"x":65,"y":0.584},{"s":8,"x":70,"y":0.588},{"s":8,"x":75,"y":0.582},{"s":8,"x":80,"y":0.586},{"s":8,"x":85,"y":0.584},{"s":8,"x":90,"y":0.580},{"s":8,"x":95,"y":0.586},{"s":8,"x":100,"y":0.584},{"s":8,"x":105,"y":0.582},{"s":8,"x":110,"y":0.586},{"s":8,"x":115,"y":0.588},{"s":8,"x":120,"y":0.584},{"s":8,"x":125,"y":0.582},{"s":8,"x":130,"y":0.584},{"s":8,"x":135,"y":0.586},{"s":8,"x":140,"y":0.582},{"s":8,"x":145,"y":0.584},{"s":8,"x":150,"y":0.586},{"s":8,"x":155,"y":0.580},{"s":8,"x":160,"y":0.584},{"s":8,"x":165,"y":0.586},{"s":8,"x":170,"y":0.586},{"s":8,"x":175,"y":0.582},{"s":8,"x":180,"y":0.584},{"s":8,"x":185,"y":0.588},{"s":8,"x":190,"y":0.582},{"s":8,"x":195,"y":0.584},{"s":8,"x":200,"y":0.586},
{"s":9,"x":1,"y":0.49},{"s":9,"x":2,"y":0.60},{"s":9,"x":3,"y":0.585},{"s":9,"x":5,"y":0.580},{"s":9,"x":10,"y":0.578},{"s":9,"x":15,"y":0.580},{"s":9,"x":20,"y":0.582},{"s":9,"x":25,"y":0.582},{"s":9,"x":30,"y":0.576},{"s":9,"x":35,"y":0.580},{"s":9,"x":40,"y":0.582},{"s":9,"x":45,"y":0.580},{"s":9,"x":50,"y":0.578},{"s":9,"x":55,"y":0.584},{"s":9,"x":60,"y":0.580},{"s":9,"x":65,"y":0.582},{"s":9,"x":70,"y":0.578},{"s":9,"x":75,"y":0.580},{"s":9,"x":80,"y":0.580},{"s":9,"x":85,"y":0.582},{"s":9,"x":90,"y":0.578},{"s":9,"x":95,"y":0.584},{"s":9,"x":100,"y":0.578},{"s":9,"x":105,"y":0.580},{"s":9,"x":110,"y":0.582},{"s":9,"x":115,"y":0.580},{"s":9,"x":120,"y":0.576},{"s":9,"x":125,"y":0.582},{"s":9,"x":130,"y":0.582},{"s":9,"x":135,"y":0.578},{"s":9,"x":140,"y":0.580},{"s":9,"x":145,"y":0.582},{"s":9,"x":150,"y":0.580},{"s":9,"x":155,"y":0.578},{"s":9,"x":160,"y":0.584},{"s":9,"x":165,"y":0.580},{"s":9,"x":170,"y":0.578},{"s":9,"x":175,"y":0.582},{"s":9,"x":180,"y":0.578},{"s":9,"x":185,"y":0.580},{"s":9,"x":190,"y":0.582},{"s":9,"x":195,"y":0.578},{"s":9,"x":200,"y":0.584},
{"s":10,"x":1,"y":0.52},{"s":10,"x":2,"y":0.56},{"s":10,"x":3,"y":0.575},{"s":10,"x":5,"y":0.576},{"s":10,"x":10,"y":0.578},{"s":10,"x":15,"y":0.576},{"s":10,"x":20,"y":0.574},{"s":10,"x":25,"y":0.578},{"s":10,"x":30,"y":0.574},{"s":10,"x":35,"y":0.576},{"s":10,"x":40,"y":0.574},{"s":10,"x":45,"y":0.576},{"s":10,"x":50,"y":0.576},{"s":10,"x":55,"y":0.576},{"s":10,"x":60,"y":0.574},{"s":10,"x":65,"y":0.578},{"s":10,"x":70,"y":0.574},{"s":10,"x":75,"y":0.576},{"s":10,"x":80,"y":0.572},{"s":10,"x":85,"y":0.576},{"s":10,"x":90,"y":0.578},{"s":10,"x":95,"y":0.574},{"s":10,"x":100,"y":0.576},{"s":10,"x":105,"y":0.574},{"s":10,"x":110,"y":0.578},{"s":10,"x":115,"y":0.576},{"s":10,"x":120,"y":0.572},{"s":10,"x":125,"y":0.574},{"s":10,"x":130,"y":0.576},{"s":10,"x":135,"y":0.578},{"s":10,"x":140,"y":0.574},{"s":10,"x":145,"y":0.576},{"s":10,"x":150,"y":0.576},{"s":10,"x":155,"y":0.574},{"s":10,"x":160,"y":0.578},{"s":10,"x":165,"y":0.572},{"s":10,"x":170,"y":0.576},{"s":10,"x":175,"y":0.574},{"s":10,"x":180,"y":0.576},{"s":10,"x":185,"y":0.578},{"s":10,"x":190,"y":0.574},{"s":10,"x":195,"y":0.576},{"s":10,"x":200,"y":0.572},
{"s":11,"x":1,"y":0.45},{"s":11,"x":2,"y":0.53},{"s":11,"x":3,"y":0.545},{"s":11,"x":5,"y":0.554},{"s":11,"x":10,"y":0.552},{"s":11,"x":15,"y":0.548},{"s":11,"x":20,"y":0.554},{"s":11,"x":25,"y":0.552},{"s":11,"x":30,"y":0.550},{"s":11,"x":35,"y":0.554},{"s":11,"x":40,"y":0.556},{"s":11,"x":45,"y":0.552},{"s":11,"x":50,"y":0.550},{"s":11,"x":55,"y":0.552},{"s":11,"x":60,"y":0.554},{"s":11,"x":65,"y":0.550},{"s":11,"x":70,"y":0.552},{"s":11,"x":75,"y":0.554},{"s":11,"x":80,"y":0.548},{"s":11,"x":85,"y":0.552},{"s":11,"x":90,"y":0.554},{"s":11,"x":95,"y":0.554},{"s":11,"x":100,"y":0.550},{"s":11,"x":105,"y":0.552},{"s":11,"x":110,"y":0.556},{"s":11,"x":115,"y":0.550},{"s":11,"x":120,"y":0.552},{"s":11,"x":125,"y":0.554},{"s":11,"x":130,"y":0.552},{"s":11,"x":135,"y":0.550},{"s":11,"x":140,"y":0.554},{"s":11,"x":145,"y":0.550},{"s":11,"x":150,"y":0.552},{"s":11,"x":155,"y":0.556},{"s":11,"x":160,"y":0.552},{"s":11,"x":165,"y":0.550},{"s":11,"x":170,"y":0.554},{"s":11,"x":175,"y":0.552},{"s":11,"x":180,"y":0.554},{"s":11,"x":185,"y":0.550},{"s":11,"x":190,"y":0.552},{"s":11,"x":195,"y":0.556},{"s":11,"x":200,"y":0.550},
{"s":12,"x":1,"y":0.47},{"s":12,"x":2,"y":0.52},{"s":12,"x":3,"y":0.535},{"s":12,"x":5,"y":0.538},{"s":12,"x":10,"y":0.542},{"s":12,"x":15,"y":0.540},{"s":12,"x":20,"y":0.544},{"s":12,"x":25,"y":0.542},{"s":12,"x":30,"y":0.542},{"s":12,"x":35,"y":0.540},{"s":12,"x":40,"y":0.544},{"s":12,"x":45,"y":0.538},{"s":12,"x":50,"y":0.544},{"s":12,"x":55,"y":0.542},{"s":12,"x":60,"y":0.540},{"s":12,"x":65,"y":0.542},{"s":12,"x":70,"y":0.546},{"s":12,"x":75,"y":0.540},{"s":12,"x":80,"y":0.540},{"s":12,"x":85,"y":0.544},{"s":12,"x":90,"y":0.542},{"s":12,"x":95,"y":0.540},{"s":12,"x":100,"y":0.542},{"s":12,"x":105,"y":0.544},{"s":12,"x":110,"y":0.538},{"s":12,"x":115,"y":0.542},{"s":12,"x":120,"y":0.544},{"s":12,"x":125,"y":0.540},{"s":12,"x":130,"y":0.544},{"s":12,"x":135,"y":0.542},{"s":12,"x":140,"y":0.540},{"s":12,"x":145,"y":0.544},{"s":12,"x":150,"y":0.538},{"s":12,"x":155,"y":0.542},{"s":12,"x":160,"y":0.544},{"s":12,"x":165,"y":0.542},{"s":12,"x":170,"y":0.540},{"s":12,"x":175,"y":0.540},{"s":12,"x":180,"y":0.546},{"s":12,"x":185,"y":0.542},{"s":12,"x":190,"y":0.540},{"s":12,"x":195,"y":0.542},{"s":12,"x":200,"y":0.544}
],
"ca":[
{"s":1,"x":1,"y":0.21},{"s":1,"x":2,"y":0.605},{"s":1,"x":4,"y":0.613},{"s":1,"x":6,"y":0.616},{"s":1,"x":8,"y":0.610},{"s":1,"x":10,"y":0.616},{"s":1,"x":12,"y":0.613},{"s":1,"x":14,"y":0.619},{"s":1,"x":16,"y":0.613},{"s":1,"x":18,"y":0.610},{"s":1,"x":20,"y":0.616},{"s":1,"x":22,"y":0.613},{"s":1,"x":24,"y":0.616},{"s":1,"x":26,"y":0.610},{"s":1,"x":28,"y":0.613},{"s":1,"x":30,"y":0.619},{"s":1,"x":32,"y":0.616},{"s":1,"x":34,"y":0.613},{"s":1,"x":36,"y":0.610},{"s":1,"x":38,"y":0.616},{"s":1,"x":40,"y":0.613},{"s":1,"x":42,"y":0.613},{"s":1,"x":44,"y":0.616},{"s":1,"x":46,"y":0.610},{"s":1,"x":48,"y":0.619},{"s":1,"x":50,"y":0.613},{"s":1,"x":52,"y":0.616},{"s":1,"x":54,"y":0.613},{"s":1,"x":56,"y":0.610},{"s":1,"x":58,"y":0.616},{"s":1,"x":60,"y":0.613},{"s":1,"x":62,"y":0.619},{"s":1,"x":64,"y":0.613},{"s":1,"x":66,"y":0.610},{"s":1,"x":68,"y":0.613},{"s":1,"x":70,"y":0.616},{"s":1,"x":72,"y":0.610},{"s":1,"x":74,"y":0.616},{"s":1,"x":76,"y":0.613},{"s":1,"x":78,"y":0.616},{"s":1,"x":80,"y":0.613},{"s":1,"x":82,"y":0.613},{"s":1,"x":84,"y":0.616},{"s":1,"x":86,"y":0.610},{"s":1,"x":88,"y":0.613},{"s":1,"x":90,"y":0.619},{"s":1,"x":92,"y":0.610},{"s":1,"x":94,"y":0.616},{"s":1,"x":96,"y":0.613},{"s":1,"x":98,"y":0.607},{"s":1,"x":100,"y":0.616},{"s":1,"x":102,"y":0.613},{"s":1,"x":104,"y":0.610},{"s":1,"x":106,"y":0.616},{"s":1,"x":108,"y":0.619},{"s":1,"x":110,"y":0.613},{"s":1,"x":112,"y":0.610},{"s":1,"x":114,"y":0.613},{"s":1,"x":116,"y":0.616},{"s":1,"x":118,"y":0.610},{"s":1,"x":120,"y":0.613},{"s":1,"x":122,"y":0.616},{"s":1,"x":124,"y":0.607},{"s":1,"x":126,"y":0.613},{"s":1,"x":128,"y":0.616},{"s":1,"x":130,"y":0.616},{"s":1,"x":132,"y":0.610},{"s":1,"x":134,"y":0.613},{"s":1,"x":136,"y":0.619},{"s":1,"x":138,"y":0.610},{"s":1,"x":140,"y":0.613},{"s":1,"x":142,"y":0.616},{"s":1,"x":144,"y":0.613},{"s":1,"x":146,"y":0.610},{"s":1,"x":148,"y":0.616},{"s":1,"x":150,"y":0.610},{"s":1,"x":152,"y":0.613},{"s":1,"x":154,"y":0.619},{"s":1,"x":156,"y":0.613},{"s":1,"x":158,"y":0.610},{"s":1,"x":160,"y":0.616},{"s":1,"x":162,"y":0.613},{"s":1,"x":164,"y":0.610},{"s":1,"x":166,"y":0.613},{"s":1,"x":168,"y":0.616},{"s":1,"x":170,"y":0.610},{"s":1,"x":172,"y":0.619},{"s":1,"x":174,"y":0.613},{"s":1,"x":176,"y":0.610},{"s":1,"x":178,"y":0.613},{"s":1,"x":180,"y":0.616},{"s":1,"x":182,"y":0.616},{"s":1,"x":184,"y":0.607},{"s":1,"x":186,"y":0.613},{"s":1,"x":188,"y":0.616},{"s":1,"x":190,"y":0.613},{"s":1,"x":192,"y":0.610},{"s":1,"x":194,"y":0.619},{"s":1,"x":196,"y":0.613},{"s":1,"x":198,"y":0.616},{"s":1,"x":200,"y":0.610},
{"s":2,"x":1,"y":0.21},{"s":2,"x":2,"y":0.47},{"s":2,"x":3,"y":0.48},{"s":2,"x":4,"y":0.505},{"s":2,"x":5,"y":0.55},{"s":2,"x":6,"y":0.59},{"s":2,"x":7,"y":0.612},{"s":2,"x":8,"y":0.606},{"s":2,"x":10,"y":0.609},{"s":2,"x":12,"y":0.612},{"s":2,"x":14,"y":0.606},{"s":2,"x":16,"y":0.615},{"s":2,"x":18,"y":0.609},{"s":2,"x":20,"y":0.606},{"s":2,"x":22,"y":0.609},{"s":2,"x":24,"y":0.612},{"s":2,"x":26,"y":0.612},{"s":2,"x":28,"y":0.603},{"s":2,"x":30,"y":0.609},{"s":2,"x":32,"y":0.612},{"s":2,"x":34,"y":0.609},{"s":2,"x":36,"y":0.606},{"s":2,"x":38,"y":0.615},{"s":2,"x":40,"y":0.609},{"s":2,"x":42,"y":0.612},{"s":2,"x":44,"y":0.606},{"s":2,"x":46,"y":0.609},{"s":2,"x":48,"y":0.609},{"s":2,"x":50,"y":0.612},{"s":2,"x":52,"y":0.606},{"s":2,"x":54,"y":0.615},{"s":2,"x":56,"y":0.606},{"s":2,"x":58,"y":0.609},{"s":2,"x":60,"y":0.612},{"s":2,"x":62,"y":0.609},{"s":2,"x":64,"y":0.603},{"s":2,"x":66,"y":0.612},{"s":2,"x":68,"y":0.612},{"s":2,"x":70,"y":0.606},{"s":2,"x":72,"y":0.609},{"s":2,"x":74,"y":0.612},{"s":2,"x":76,"y":0.609},{"s":2,"x":78,"y":0.606},{"s":2,"x":80,"y":0.615},{"s":2,"x":82,"y":0.609},{"s":2,"x":84,"y":0.606},{"s":2,"x":86,"y":0.612},{"s":2,"x":88,"y":0.609},{"s":2,"x":90,"y":0.612},{"s":2,"x":92,"y":0.606},{"s":2,"x":94,"y":0.612},{"s":2,"x":96,"y":0.609},{"s":2,"x":98,"y":0.615},{"s":2,"x":100,"y":0.609},{"s":2,"x":102,"y":0.606},{"s":2,"x":104,"y":0.612},{"s":2,"x":106,"y":0.609},{"s":2,"x":108,"y":0.612},{"s":2,"x":110,"y":0.606},{"s":2,"x":112,"y":0.609},{"s":2,"x":114,"y":0.615},{"s":2,"x":116,"y":0.612},{"s":2,"x":118,"y":0.609},{"s":2,"x":120,"y":0.606},{"s":2,"x":122,"y":0.612},{"s":2,"x":124,"y":0.609},{"s":2,"x":126,"y":0.609},{"s":2,"x":128,"y":0.612},{"s":2,"x":130,"y":0.606},{"s":2,"x":132,"y":0.615},{"s":2,"x":134,"y":0.609},{"s":2,"x":136,"y":0.612},{"s":2,"x":138,"y":0.609},{"s":2,"x":140,"y":0.606},{"s":2,"x":142,"y":0.612},{"s":2,"x":144,"y":0.609},{"s":2,"x":146,"y":0.615},{"s":2,"x":148,"y":0.609},{"s":2,"x":150,"y":0.606},{"s":2,"x":152,"y":0.609},{"s":2,"x":154,"y":0.612},{"s":2,"x":156,"y":0.606},{"s":2,"x":158,"y":0.612},{"s":2,"x":160,"y":0.609},{"s":2,"x":162,"y":0.612},{"s":2,"x":164,"y":0.609},{"s":2,"x":166,"y":0.609},{"s":2,"x":168,"y":0.612},{"s":2,"x":170,"y":0.606},{"s":2,"x":172,"y":0.609},{"s":2,"x":174,"y":0.615},{"s":2,"x":176,"y":0.606},{"s":2,"x":178,"y":0.612},{"s":2,"x":180,"y":0.609},{"s":2,"x":182,"y":0.603},{"s":2,"x":184,"y":0.612},{"s":2,"x":186,"y":0.609},{"s":2,"x":188,"y":0.606},{"s":2,"x":190,"y":0.612},{"s":2,"x":192,"y":0.615},{"s":2,"x":194,"y":0.609},{"s":2,"x":196,"y":0.606},{"s":2,"x":198,"y":0.609},{"s":2,"x":200,"y":0.612}
],
"cb":[
{"s":3,"x":1,"y":0.21},{"s":3,"x":2,"y":0.478},{"s":3,"x":4,"y":0.482},{"s":3,"x":6,"y":0.484},{"s":3,"x":8,"y":0.480},{"s":3,"x":10,"y":0.484},{"s":3,"x":12,"y":0.482},{"s":3,"x":14,"y":0.486},{"s":3,"x":16,"y":0.482},{"s":3,"x":18,"y":0.480},{"s":3,"x":20,"y":0.484},{"s":3,"x":22,"y":0.482},{"s":3,"x":24,"y":0.484},{"s":3,"x":26,"y":0.480},{"s":3,"x":28,"y":0.482},{"s":3,"x":30,"y":0.486},{"s":3,"x":32,"y":0.484},{"s":3,"x":34,"y":0.482},{"s":3,"x":36,"y":0.480},{"s":3,"x":38,"y":0.484},{"s":3,"x":40,"y":0.482},{"s":3,"x":42,"y":0.482},{"s":3,"x":44,"y":0.484},{"s":3,"x":46,"y":0.480},{"s":3,"x":48,"y":0.486},{"s":3,"x":50,"y":0.482},{"s":3,"x":52,"y":0.484},{"s":3,"x":54,"y":0.482},{"s":3,"x":56,"y":0.480},{"s":3,"x":58,"y":0.484},{"s":3,"x":60,"y":0.482},{"s":3,"x":62,"y":0.486},{"s":3,"x":64,"y":0.482},{"s":3,"x":66,"y":0.480},{"s":3,"x":68,"y":0.482},{"s":3,"x":70,"y":0.484},{"s":3,"x":72,"y":0.480},{"s":3,"x":74,"y":0.484},{"s":3,"x":76,"y":0.482},{"s":3,"x":78,"y":0.484},{"s":3,"x":80,"y":0.482},{"s":3,"x":82,"y":0.482},{"s":3,"x":84,"y":0.484},{"s":3,"x":86,"y":0.480},{"s":3,"x":88,"y":0.482},{"s":3,"x":90,"y":0.486},{"s":3,"x":92,"y":0.480},{"s":3,"x":94,"y":0.484},{"s":3,"x":96,"y":0.482},{"s":3,"x":98,"y":0.478},{"s":3,"x":100,"y":0.484},{"s":3,"x":102,"y":0.482},{"s":3,"x":104,"y":0.480},{"s":3,"x":106,"y":0.484},{"s":3,"x":108,"y":0.486},{"s":3,"x":110,"y":0.482},{"s":3,"x":112,"y":0.480},{"s":3,"x":114,"y":0.482},{"s":3,"x":116,"y":0.484},{"s":3,"x":118,"y":0.480},{"s":3,"x":120,"y":0.482},{"s":3,"x":122,"y":0.484},{"s":3,"x":124,"y":0.478},{"s":3,"x":126,"y":0.482},{"s":3,"x":128,"y":0.484},{"s":3,"x":130,"y":0.484},{"s":3,"x":132,"y":0.480},{"s":3,"x":134,"y":0.482},{"s":3,"x":136,"y":0.486},{"s":3,"x":138,"y":0.480},{"s":3,"x":140,"y":0.482},{"s":3,"x":142,"y":0.484},{"s":3,"x":144,"y":0.482},{"s":3,"x":146,"y":0.480},{"s":3,"x":148,"y":0.484},{"s":3,"x":150,"y":0.480},{"s":3,"x":152,"y":0.482},{"s":3,"x":154,"y":0.486},{"s":3,"x":156,"y":0.482},{"s":3,"x":158,"y":0.480},{"s":3,"x":160,"y":0.484},{"s":3,"x":162,"y":0.482},{"s":3,"x":164,"y":0.480},{"s":3,"x":166,"y":0.482},{"s":3,"x":168,"y":0.484},{"s":3,"x":170,"y":0.480},{"s":3,"x":172,"y":0.486},{"s":3,"x":174,"y":0.482},{"s":3,"x":176,"y":0.480},{"s":3,"x":178,"y":0.482},{"s":3,"x":180,"y":0.484},{"s":3,"x":182,"y":0.484},{"s":3,"x":184,"y":0.478},{"s":3,"x":186,"y":0.482},{"s":3,"x":188,"y":0.484},{"s":3,"x":190,"y":0.482},{"s":3,"x":192,"y":0.480},{"s":3,"x":194,"y":0.486},{"s":3,"x":196,"y":0.482},{"s":3,"x":198,"y":0.484},{"s":3,"x":200,"y":0.480}
],
"me":[
{"x":1,"y":0.954},{"x":2,"y":0.956},{"x":3,"y":0.956},{"x":4,"y":0.953},{"x":5,"y":0.953},{"x":6,"y":0.953},{"x":7,"y":0.953},{"x":8,"y":0.953},{"x":9,"y":0.953},{"x":10,"y":0.953},{"x":11,"y":0.953},{"x":12,"y":0.953},{"x":13,"y":0.953},{"x":14,"y":0.9515},{"x":15,"y":0.9515},{"x":16,"y":0.9515},{"x":17,"y":0.95},{"x":18,"y":0.95},{"x":19,"y":0.95},{"x":20,"y":0.95},{"x":21,"y":0.95},{"x":22,"y":0.95},{"x":23,"y":0.95},{"x":24,"y":0.95},{"x":25,"y":0.95},{"x":26,"y":0.95},{"x":27,"y":0.95},{"x":28,"y":0.95},{"x":29,"y":0.95},{"x":30,"y":0.95},{"x":31,"y":0.95},{"x":32,"y":0.95},{"x":33,"y":0.95},{"x":34,"y":0.95},{"x":35,"y":0.95},{"x":36,"y":0.95},{"x":37,"y":0.95},{"x":38,"y":0.95},{"x":39,"y":0.95},{"x":40,"y":0.95},{"x":41,"y":0.95},{"x":42,"y":0.95},{"x":43,"y":0.95},{"x":44,"y":0.95},{"x":45,"y":0.95},{"x":46,"y":0.95},{"x":47,"y":0.95},{"x":48,"y":0.95},{"x":49,"y":0.95},{"x":50,"y":0.95},{"x":51,"y":0.95},{"x":52,"y":0.95},{"x":53,"y":0.95},{"x":54,"y":0.95},{"x":55,"y":0.95},{"x":56,"y":0.95},{"x":57,"y":0.95},{"x":58,"y":0.95},{"x":59,"y":0.95},{"x":60,"y":0.95},{"x":61,"y":0.95},{"x":62,"y":0.95},{"x":63,"y":0.95},{"x":64,"y":0.95},{"x":65,"y":0.95},{"x":66,"y":0.95},{"x":67,"y":0.95},{"x":68,"y":0.95},{"x":69,"y":0.95},{"x":70,"y":0.95},{"x":71,"y":0.95},{"x":72,"y":0.95},{"x":73,"y":0.95},{"x":74,"y":0.95},{"x":75,"y":0.95},{"x":76,"y":0.95},{"x":77,"y":0.95},{"x":78,"y":0.95},{"x":79,"y":0.95},{"x":80,"y":0.95},{"x":81,"y":0.95},{"x":82,"y":0.95},{"x":83,"y":0.95},{"x":84,"y":0.95},{"x":85,"y":0.95},{"x":86,"y":0.95},{"x":87,"y":0.95},{"x":88,"y":0.95},{"x":89,"y":0.95},{"x":90,"y":0.95},{"x":91,"y":0.95},{"x":92,"y":0.95},{"x":93,"y":0.95},{"x":94,"y":0.95},{"x":95,"y":0.95},{"x":96,"y":0.95},{"x":97,"y":0.95},{"x":98,"y":0.95},{"x":99,"y":0.95},{"x":100,"y":0.95},{"x":101,"y":0.95},{"x":102,"y":0.95},{"x":103,"y":0.95},{"x":104,"y":0.95},{"x":105,"y":0.95},{"x":106,"y":0.95},{"x":107,"y":0.95},{"x":108,"y":0.95},{"x":109,"y":0.95},{"x":110,"y":0.95},{"x":111,"y":0.95},{"x":112,"y":0.95},{"x":113,"y":0.95},{"x":114,"y":0.95},{"x":115,"y":0.95},{"x":116,"y":0.95},{"x":117,"y":0.95},{"x":118,"y":0.95},{"x":119,"y":0.95},{"x":120,"y":0.95},{"x":121,"y":0.95},{"x":122,"y":0.95},{"x":123,"y":0.95},{"x":124,"y":0.95},{"x":125,"y":0.95},{"x":126,"y":0.95},{"x":127,"y":0.95},{"x":128,"y":0.95},{"x":129,"y":0.95},{"x":130,"y":0.95},{"x":131,"y":0.95},{"x":132,"y":0.95},{"x":133,"y":0.95},{"x":134,"y":0.95},{"x":135,"y":0.95},{"x":136,"y":0.95},{"x":137,"y":0.95},{"x":138,"y":0.95},{"x":139,"y":0.95},{"x":140,"y":0.95},{"x":141,"y":0.95},{"x":142,"y":0.95},{"x":143,"y":0.95},{"x":144,"y":0.95},{"x":145,"y":0.95},{"x":146,"y":0.95},{"x":147,"y":0.95},{"x":148,"y":0.95},{"x":149,"y":0.95},{"x":150,"y":0.95},{"x":151,"y":0.95},{"x":152,"y":0.95},{"x":153,"y":0.95},{"x":154,"y":0.95},{"x":155,"y":0.95},{"x":156,"y":0.95},{"x":157,"y":0.95},{"x":158,"y":0.95},{"x":159,"y":0.95},{"x":160,"y":0.95},{"x":161,"y":0.95},{"x":162,"y":0.95},{"x":163,"y":0.95},{"x":164,"y":0.95},{"x":165,"y":0.95},{"x":166,"y":0.95},{"x":167,"y":0.95},{"x":168,"y":0.95},{"x":169,"y":0.95},{"x":170,"y":0.95},{"x":171,"y":0.95},{"x":172,"y":0.95},{"x":173,"y":0.95},{"x":174,"y":0.95},{"x":175,"y":0.95},{"x":176,"y":0.95},{"x":177,"y":0.95},{"x":178,"y":0.95},{"x":179,"y":0.95},{"x":180,"y":0.95},{"x":181,"y":0.95},{"x":182,"y":0.95},{"x":183,"y":0.95},{"x":184,"y":0.95},{"x":185,"y":0.95},{"x":186,"y":0.95},{"x":187,"y":0.95},{"x":188,"y":0.95},{"x":189,"y":0.95},{"x":190,"y":0.95},{"x":191,"y":0.95},{"x":192,"y":0.95},{"x":193,"y":0.95},{"x":194,"y":0.95},{"x":195,"y":0.95},{"x":196,"y":0.95},{"x":197,"y":0.95},{"x":198,"y":0.95},{"x":199,"y":0.95},{"x":200,"y":0.95}
]},
"layer":[
{"data":{"name":"mg"},"mark":{"type":"line","strokeWidth":1},
"encoding":{
"x":{"field":"x","type":"quantitative","scale":{"domain":[0,200],"nice":false,"zero":false},"axis":{"orient":"bottom","values":[0,20,40,60,80,100,120,140,160,180,200],"title":"Itérations EM –– Itérations Gibbs/50","labelPadding":15,"titlePadding":6}},
"y":{"field":"y","type":"quantitative","scale":{"domain":[0.2,1],"nice":false,"zero":false},"axis":{"orient":"left","values":[0.2,0.3,0.4,0.5,0.6,0.7,0.8,0.9,1],"format":".1~f","title":"Scores de cooccurrences","labelPadding":19,"titlePadding":8}},
"detail":{"field":"s"},
"color":{"datum":"MG","type":"nominal","scale":{"domain":["MG","ME","LG","L9"],"range":["#000000","#ff0000","#0000ff","#00ffff"]},
"legend":{"orient":"none","legendX":576,"legendY":688,"title":null,"padding":4,"fillColor":"#ffffff","strokeColor":"#000000","labelFont":"Liberation Sans","labelFontSize":23,"labelColor":"#000000","labelLimit":0,"labelOffset":18,"symbolOffset":16,"rowPadding":2,"symbolSize":100,"symbolStrokeWidth":0,
"labelExpr":"datum.value=='MG' ? 'Mult – Gibbs' : datum.value=='ME' ? 'Mult – EM (initialisation Reuters)\u00a0\u00a0\u00a0\u00a0\u00a0\u00a0' : datum.value=='LG' ? 'LDA – Gibbs' : 'LDA – Gibbs – 900 mots'",
"encoding":{"symbols":{
"shape":{"condition":[{"test":"datum.value=='MG'","value":"M-4,-0.1H4V0.1H-4Z"},{"test":"datum.value=='ME'","value":"M-0.42,0A0.42,0.42,0,1,1,0.42,0A0.42,0.42,0,1,1,-0.42,0Z"},{"test":"datum.value=='LG'","value":"M-4,-0.1H-3.6V0.1H-4Z M0,-0.1H2.6V0.1H0Z M3.4,-0.1H3.8V0.1H3.4Z"}],"value":"M-4,-0.7H-3.6V0.7H-4Z M0,-0.7H2.6V0.7H0Z M3.4,-0.7H3.8V0.7H3.4Z"},
"fill":{"condition":[{"test":"datum.value=='MG'","value":"#000000"},{"test":"datum.value=='ME'","value":"#ff0000"},{"test":"datum.value=='LG'","value":"#0000ff"}],"value":"#00ffff"},
"stroke":{"value":"transparent"},
"strokeWidth":{"value":0},
"size":{"value":100},
"opacity":{"value":1}}}}}}},
{"data":{"name":"lg"},"mark":{"type":"line","strokeWidth":1,"strokeDash":[7,4,1.5,4]},
"encoding":{
"x":{"field":"x","type":"quantitative","scale":{"domain":[0,200],"nice":false,"zero":false},"axis":{"orient":"top","values":[0,20,40,60,80,100,120,140,160,180,200],"labels":false,"title":null}},
"y":{"field":"y","type":"quantitative","scale":{"domain":[0.2,1],"nice":false,"zero":false},"axis":{"orient":"right","values":[0.2,0.3,0.4,0.5,0.6,0.7,0.8,0.9,1],"labels":false,"title":null}},
"detail":{"field":"s"},
"color":{"datum":"LG","type":"nominal","scale":{"domain":["MG","ME","LG","L9"],"range":["#000000","#ff0000","#0000ff","#00ffff"]}}}},
{"data":{"name":"ca"},"mark":{"type":"line","strokeWidth":8},
"encoding":{
"x":{"field":"x","type":"quantitative","scale":{"domain":[0,200],"nice":false,"zero":false},"axis":null},
"y":{"field":"y","type":"quantitative","scale":{"domain":[0.2,1],"nice":false,"zero":false},"axis":null},
"detail":{"field":"s"},
"color":{"datum":"L9","type":"nominal","scale":{"domain":["MG","ME","LG","L9"],"range":["#000000","#ff0000","#0000ff","#00ffff"]}}}},
{"data":{"name":"cb"},"mark":{"type":"line","strokeWidth":8,"strokeDash":[13,7,2,7],"strokeCap":"butt"},
"encoding":{
"x":{"field":"x","type":"quantitative","scale":{"domain":[0,200],"nice":false,"zero":false},"axis":null},
"y":{"field":"y","type":"quantitative","scale":{"domain":[0.2,1],"nice":false,"zero":false},"axis":null},
"detail":{"field":"s"},
"color":{"datum":"L9","type":"nominal","scale":{"domain":["MG","ME","LG","L9"],"range":["#000000","#ff0000","#0000ff","#00ffff"]}}}},
{"data":{"name":"me"},"mark":{"type":"point","filled":true,"size":16,"opacity":1,"strokeWidth":0},
"encoding":{
"x":{"field":"x","type":"quantitative","scale":{"domain":[0,200],"nice":false,"zero":false},"axis":null},
"y":{"field":"y","type":"quantitative","scale":{"domain":[0.2,1],"nice":false,"zero":false},"axis":null},
"color":{"datum":"ME","type":"nominal","scale":{"domain":["MG","ME","LG","L9"],"range":["#000000","#ff0000","#0000ff","#00ffff"]}}}}
],
"resolve":{"axis":{"x":"independent","y":"independent"}}
}
